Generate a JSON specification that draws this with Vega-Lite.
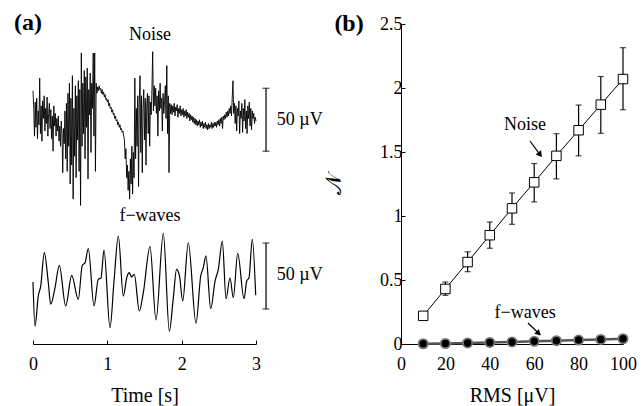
{
"$schema":"https://vega.github.io/schema/vega-lite/v6.json",
"padding":{"left":14,"top":10,"right":2,"bottom":2},
"background":"white",
"config":{"view":{"stroke":null},"font":"Liberation Serif",
"axis":{"labelFont":"Liberation Serif","titleFont":"Liberation Serif","labelColor":"black","titleColor":"black","domainColor":"black","tickColor":"black","titleFontWeight":"normal","labelFontSize":18,"titleFontSize":20,"grid":false,"labelFlush":false,"labelOverlap":false}},
"datasets":{
"noise":[{"t":0,"v":24},{"t":0.01,"v":10},{"t":0.02,"v":-12},{"t":0.03,"v":15},{"t":0.04,"v":-5},{"t":0.05,"v":18},{"t":0.06,"v":-14},{"t":0.07,"v":8},{"t":0.08,"v":-3},{"t":0.09,"v":34},{"t":0.1,"v":-10},{"t":0.11,"v":12},{"t":0.12,"v":-16},{"t":0.13,"v":16},{"t":0.14,"v":2},{"t":0.15,"v":20},{"t":0.16,"v":-8},{"t":0.17,"v":10},{"t":0.18,"v":-2},{"t":0.19,"v":19},{"t":0.2,"v":-12},{"t":0.21,"v":6},{"t":0.22,"v":14},{"t":0.23,"v":-6},{"t":0.24,"v":9},{"t":0.25,"v":-14},{"t":0.26,"v":4},{"t":0.27,"v":-24},{"t":0.28,"v":12},{"t":0.29,"v":-4},{"t":0.3,"v":6},{"t":0.31,"v":-12},{"t":0.32,"v":2},{"t":0.33,"v":-8},{"t":0.34,"v":4},{"t":0.35,"v":-16},{"t":0.36,"v":-4},{"t":0.37,"v":-20},{"t":0.38,"v":0},{"t":0.39,"v":-10},{"t":0.4,"v":-41},{"t":0.41,"v":-6},{"t":0.42,"v":-18},{"t":0.43,"v":8},{"t":0.44,"v":-30},{"t":0.45,"v":14},{"t":0.46,"v":-40},{"t":0.47,"v":22},{"t":0.48,"v":-20},{"t":0.49,"v":30},{"t":0.5,"v":-50},{"t":0.51,"v":18},{"t":0.52,"v":-35},{"t":0.53,"v":36},{"t":0.54,"v":-62},{"t":0.55,"v":10},{"t":0.56,"v":-28},{"t":0.57,"v":28},{"t":0.58,"v":-45},{"t":0.59,"v":20},{"t":0.6,"v":-15},{"t":0.61,"v":32},{"t":0.62,"v":-40},{"t":0.63,"v":25},{"t":0.64,"v":-67},{"t":0.65,"v":54},{"t":0.66,"v":-20},{"t":0.67,"v":30},{"t":0.68,"v":-10},{"t":0.69,"v":40},{"t":0.7,"v":-30},{"t":0.71,"v":35},{"t":0.72,"v":-5},{"t":0.73,"v":42},{"t":0.74,"v":-46},{"t":0.75,"v":25},{"t":0.76,"v":5},{"t":0.77,"v":38},{"t":0.78,"v":-25},{"t":0.79,"v":30},{"t":0.8,"v":10},{"t":0.81,"v":54},{"t":0.82,"v":-12},{"t":0.83,"v":54},{"t":0.84,"v":-40},{"t":0.85,"v":30},{"t":0.86,"v":22},{"t":0.87,"v":27},{"t":0.88,"v":24},{"t":0.89,"v":28},{"t":0.9,"v":25},{"t":0.91,"v":26},{"t":0.92,"v":22},{"t":0.93,"v":25},{"t":0.94,"v":21},{"t":0.95,"v":23},{"t":0.96,"v":19},{"t":0.97,"v":21},{"t":0.98,"v":17},{"t":0.99,"v":18},{"t":1,"v":15},{"t":1.01,"v":17},{"t":1.02,"v":12},{"t":1.03,"v":14},{"t":1.04,"v":10},{"t":1.05,"v":11},{"t":1.06,"v":7},{"t":1.07,"v":9},{"t":1.08,"v":5},{"t":1.09,"v":6},{"t":1.1,"v":2},{"t":1.11,"v":4},{"t":1.12,"v":0},{"t":1.13,"v":1},{"t":1.14,"v":-3},{"t":1.15,"v":-1},{"t":1.16,"v":-5},{"t":1.17,"v":-3},{"t":1.18,"v":-7},{"t":1.19,"v":-6},{"t":1.2,"v":-9},{"t":1.21,"v":-8},{"t":1.22,"v":-12},{"t":1.23,"v":-15},{"t":1.24,"v":-30},{"t":1.25,"v":-22},{"t":1.26,"v":-45},{"t":1.27,"v":-35},{"t":1.28,"v":-55},{"t":1.29,"v":-40},{"t":1.3,"v":-62},{"t":1.31,"v":-30},{"t":1.32,"v":-50},{"t":1.33,"v":-20},{"t":1.34,"v":-58},{"t":1.35,"v":-25},{"t":1.36,"v":-45},{"t":1.37,"v":34},{"t":1.38,"v":-30},{"t":1.39,"v":10},{"t":1.4,"v":-20},{"t":1.41,"v":20},{"t":1.42,"v":-52},{"t":1.43,"v":15},{"t":1.44,"v":36},{"t":1.45,"v":-25},{"t":1.46,"v":20},{"t":1.47,"v":-41},{"t":1.48,"v":10},{"t":1.49,"v":25},{"t":1.5,"v":-15},{"t":1.51,"v":18},{"t":1.52,"v":-35},{"t":1.53,"v":12},{"t":1.54,"v":22},{"t":1.55,"v":-10},{"t":1.56,"v":20},{"t":1.57,"v":-20},{"t":1.58,"v":15},{"t":1.59,"v":5},{"t":1.6,"v":25},{"t":1.61,"v":55},{"t":1.62,"v":8},{"t":1.63,"v":28},{"t":1.64,"v":12},{"t":1.65,"v":26},{"t":1.66,"v":6},{"t":1.67,"v":20},{"t":1.68,"v":-12},{"t":1.69,"v":24},{"t":1.7,"v":8},{"t":1.71,"v":30},{"t":1.72,"v":10},{"t":1.73,"v":18},{"t":1.74,"v":-8},{"t":1.75,"v":22},{"t":1.76,"v":6},{"t":1.77,"v":16},{"t":1.78,"v":28},{"t":1.79,"v":2},{"t":1.8,"v":44},{"t":1.81,"v":-10},{"t":1.82,"v":20},{"t":1.83,"v":-41},{"t":1.84,"v":14},{"t":1.85,"v":6},{"t":1.86,"v":13},{"t":1.87,"v":5},{"t":1.88,"v":12},{"t":1.89,"v":7},{"t":1.9,"v":14},{"t":1.91,"v":4},{"t":1.92,"v":11},{"t":1.93,"v":8},{"t":1.94,"v":13},{"t":1.95,"v":3},{"t":1.96,"v":10},{"t":1.97,"v":6},{"t":1.98,"v":12},{"t":1.99,"v":4},{"t":2,"v":9},{"t":2.01,"v":5},{"t":2.02,"v":10},{"t":2.03,"v":3},{"t":2.04,"v":8},{"t":2.05,"v":4},{"t":2.06,"v":9},{"t":2.07,"v":2},{"t":2.08,"v":7},{"t":2.09,"v":3},{"t":2.1,"v":6},{"t":2.11,"v":0},{"t":2.12,"v":5},{"t":2.13,"v":1},{"t":2.14,"v":4},{"t":2.15,"v":-1},{"t":2.16,"v":3},{"t":2.17,"v":-2},{"t":2.18,"v":2},{"t":2.19,"v":-3},{"t":2.2,"v":1},{"t":2.21,"v":-4},{"t":2.22,"v":0},{"t":2.23,"v":-3},{"t":2.24,"v":1},{"t":2.25,"v":-5},{"t":2.26,"v":-1},{"t":2.27,"v":-4},{"t":2.28,"v":0},{"t":2.29,"v":-6},{"t":2.3,"v":-2},{"t":2.31,"v":-5},{"t":2.32,"v":-1},{"t":2.33,"v":-6},{"t":2.34,"v":-3},{"t":2.35,"v":-7},{"t":2.36,"v":-2},{"t":2.37,"v":-6},{"t":2.38,"v":-3},{"t":2.39,"v":-5},{"t":2.4,"v":-1},{"t":2.41,"v":-6},{"t":2.42,"v":-2},{"t":2.43,"v":-5},{"t":2.44,"v":-1},{"t":2.45,"v":-4},{"t":2.46,"v":-1},{"t":2.47,"v":-5},{"t":2.48,"v":0},{"t":2.49,"v":-3},{"t":2.5,"v":1},{"t":2.51,"v":-4},{"t":2.52,"v":2},{"t":2.53,"v":-2},{"t":2.54,"v":3},{"t":2.55,"v":-6},{"t":2.56,"v":4},{"t":2.57,"v":1},{"t":2.58,"v":5},{"t":2.59,"v":2},{"t":2.6,"v":7},{"t":2.61,"v":3},{"t":2.62,"v":8},{"t":2.63,"v":4},{"t":2.64,"v":10},{"t":2.65,"v":6},{"t":2.66,"v":12},{"t":2.67,"v":4},{"t":2.68,"v":18},{"t":2.69,"v":32},{"t":2.7,"v":6},{"t":2.71,"v":14},{"t":2.72,"v":-2},{"t":2.73,"v":12},{"t":2.74,"v":-8},{"t":2.75,"v":10},{"t":2.76,"v":4},{"t":2.77,"v":16},{"t":2.78,"v":-10},{"t":2.79,"v":8},{"t":2.8,"v":2},{"t":2.81,"v":14},{"t":2.82,"v":-9},{"t":2.83,"v":10},{"t":2.84,"v":0},{"t":2.85,"v":17},{"t":2.86,"v":-6},{"t":2.87,"v":8},{"t":2.88,"v":-10},{"t":2.89,"v":12},{"t":2.9,"v":2},{"t":2.91,"v":15},{"t":2.92,"v":-4},{"t":2.93,"v":10},{"t":2.94,"v":-7},{"t":2.95,"v":8},{"t":2.96,"v":2},{"t":2.97,"v":6},{"t":2.98,"v":-2},{"t":2.99,"v":3},{"t":3,"v":0}],
"fw":[{"t":0,"w":-4.5},{"t":0.027,"w":-37.9},{"t":0.071,"w":-15.2},{"t":0.104,"w":-7.6},{"t":0.152,"w":17.7},{"t":0.206,"w":-5.1},{"t":0.238,"w":-21.4},{"t":0.296,"w":-8.9},{"t":0.354,"w":8.1},{"t":0.44,"w":-22.7},{"t":0.521,"w":0.5},{"t":0.609,"w":-17.7},{"t":0.663,"w":8.1},{"t":0.7,"w":10.1},{"t":0.744,"w":20.7},{"t":0.821,"w":-22.7},{"t":0.878,"w":-2.5},{"t":0.915,"w":-1.5},{"t":0.955,"w":19.7},{"t":1.036,"w":-39.2},{"t":1.09,"w":-3.8},{"t":1.148,"w":30.3},{"t":1.215,"w":-15.2},{"t":1.261,"w":-1.3},{"t":1.296,"w":2.5},{"t":1.325,"w":-0.8},{"t":1.363,"w":1.3},{"t":1.43,"w":-26.5},{"t":1.484,"w":-12.7},{"t":1.574,"w":22.2},{"t":1.655,"w":-33.3},{"t":1.753,"w":32.3},{"t":1.834,"w":-41.7},{"t":1.888,"w":-16.4},{"t":1.931,"w":5.1},{"t":1.971,"w":0},{"t":2.014,"w":-18.9},{"t":2.089,"w":25.2},{"t":2.193,"w":-35.8},{"t":2.256,"w":0},{"t":2.291,"w":6.3},{"t":2.327,"w":15.2},{"t":2.391,"w":-24.8},{"t":2.449,"w":-3.8},{"t":2.493,"w":5.1},{"t":2.547,"w":26.5},{"t":2.597,"w":-17.2},{"t":2.65,"w":-1.3},{"t":2.695,"w":-16.4},{"t":2.754,"w":17.2},{"t":2.839,"w":-17.2},{"t":2.875,"w":-3.8},{"t":2.906,"w":-1.3},{"t":2.95,"w":27.8},{"t":2.996,"w":-14.6}],
"rmsN":[{"rms":10,"n":0.22,"lo":0.21,"hi":0.23},{"rms":20,"n":0.43,"lo":0.38,"hi":0.484},{"rms":30,"n":0.64,"lo":0.565,"hi":0.72},{"rms":40,"n":0.85,"lo":0.748,"hi":0.953},{"rms":50,"n":1.06,"lo":0.935,"hi":1.18},{"rms":60,"n":1.263,"lo":1.11,"hi":1.41},{"rms":70,"n":1.47,"lo":1.29,"hi":1.643},{"rms":80,"n":1.67,"lo":1.47,"hi":1.867},{"rms":90,"n":1.87,"lo":1.646,"hi":2.09},{"rms":100,"n":2.07,"lo":1.83,"hi":2.315}],
"rmsF":[{"rms":10,"n":0.002},{"rms":20,"n":0.004},{"rms":30,"n":0.008},{"rms":40,"n":0.012},{"rms":50,"n":0.016},{"rms":60,"n":0.021},{"rms":70,"n":0.026},{"rms":80,"n":0.031},{"rms":90,"n":0.036},{"rms":100,"n":0.041}]
},
"hconcat":[
{
"width":223,"height":320,
"layer":[
{"data":{"values":[{}]},"layer":[
{"data":{"name":"noise"},"mark":{"type":"line","color":"black","strokeWidth":0.9},
 "encoding":{"x":{"field":"t","type":"quantitative","scale":{"domain":[0,3],"nice":false,"zero":false},
   "axis":{"values":[0,1,2,3],"format":"~g","tickSize":-4,"labelPadding":15,"title":"Time [s]","titlePadding":12}},
  "y":{"field":"v","type":"quantitative","scale":{"domain":[-177,77],"nice":false,"zero":false},"axis":null}}},
{"mark":{"type":"rule","color":"black","strokeWidth":1.2},"encoding":{"x":{"datum":3.135,"type":"quantitative"},"y":{"datum":-24,"type":"quantitative"},"y2":{"datum":26}}},
{"mark":{"type":"tick","color":"black","orient":"horizontal","size":7,"thickness":1.2},"encoding":{"x":{"datum":3.135,"type":"quantitative"},"y":{"datum":-24,"type":"quantitative"}}},
{"mark":{"type":"tick","color":"black","orient":"horizontal","size":7,"thickness":1.2},"encoding":{"x":{"datum":3.135,"type":"quantitative"},"y":{"datum":26,"type":"quantitative"}}},
{"mark":{"type":"text","text":"50 µV","align":"left","baseline":"middle","fontSize":18,"font":"Liberation Serif","color":"black"},"encoding":{"x":{"datum":3.28,"type":"quantitative"},"y":{"datum":1,"type":"quantitative"}}},
{"mark":{"type":"text","text":"Noise","align":"center","baseline":"middle","fontSize":18,"font":"Liberation Serif","color":"black"},"encoding":{"x":{"datum":1.574,"type":"quantitative"},"y":{"datum":68,"type":"quantitative"}}},
{"mark":{"type":"text","text":"(a)","align":"center","baseline":"middle","fontSize":24,"fontWeight":"bold","font":"Liberation Serif","color":"black"},"encoding":{"x":{"datum":-0.067,"type":"quantitative"},"y":{"datum":78,"type":"quantitative"}}}
]},
{"data":{"values":[{}]},"layer":[
{"data":{"name":"fw"},"mark":{"type":"line","color":"black","strokeWidth":1.2,"interpolate":"monotone"},
 "encoding":{"x":{"field":"t","type":"quantitative"},
  "y":{"field":"w","type":"quantitative","scale":{"domain":[-51.5,190.9],"nice":false,"zero":false},"axis":null}}},
{"mark":{"type":"rule","color":"black","strokeWidth":1.2},"encoding":{"x":{"datum":3.135,"type":"quantitative"},"y":{"datum":-25,"type":"quantitative"},"y2":{"datum":25}}},
{"mark":{"type":"tick","color":"black","orient":"horizontal","size":7,"thickness":1.2},"encoding":{"x":{"datum":3.135,"type":"quantitative"},"y":{"datum":-25,"type":"quantitative"}}},
{"mark":{"type":"tick","color":"black","orient":"horizontal","size":7,"thickness":1.2},"encoding":{"x":{"datum":3.135,"type":"quantitative"},"y":{"datum":25,"type":"quantitative"}}},
{"mark":{"type":"text","text":"50 µV","align":"left","baseline":"middle","fontSize":18,"font":"Liberation Serif","color":"black"},"encoding":{"x":{"datum":3.28,"type":"quantitative"},"y":{"datum":0.5,"type":"quantitative"}}},
{"mark":{"type":"text","text":"f−waves","align":"center","baseline":"middle","fontSize":18,"font":"Liberation Serif","color":"black"},"encoding":{"x":{"datum":1.574,"type":"quantitative"},"y":{"datum":45.5,"type":"quantitative"}}}
]}
],
"resolve":{"scale":{"y":"independent"}}
},
{
"width":222,"height":320,
"data":{"values":[{}]},
"layer":[
{"data":{"name":"rmsF"},"mark":{"type":"line","color":"#555","strokeWidth":2.5},
 "encoding":{"x":{"field":"rms","type":"quantitative","scale":{"domain":[0,100],"nice":false},
   "axis":{"values":[0,20,40,60,80,100],"tickSize":-4,"labelPadding":15,"title":"RMS [μV]","titlePadding":12}},
  "y":{"field":"n","type":"quantitative","scale":{"domain":[0,2.5],"nice":false},
   "axis":{"values":[0,0.5,1,1.5,2,2.5],"format":"~g","tickSize":-4,"labelPadding":3,"title":"𝒩","titlePadding":34,"titleFontSize":22}}}},
{"data":{"name":"rmsF"},"mark":{"type":"point","shape":"circle","filled":true,"color":"black","stroke":"#777","strokeWidth":1.8,"size":85,"opacity":1},
 "encoding":{"x":{"field":"rms","type":"quantitative"},"y":{"field":"n","type":"quantitative"}}},
{"data":{"name":"rmsN"},"mark":{"type":"line","color":"black","strokeWidth":1},
 "encoding":{"x":{"field":"rms","type":"quantitative"},"y":{"field":"n","type":"quantitative"}}},
{"data":{"name":"rmsN"},"mark":{"type":"rule","color":"black","strokeWidth":1.2},
 "encoding":{"x":{"field":"rms","type":"quantitative"},"y":{"field":"lo","type":"quantitative"},"y2":{"field":"hi"}}},
{"data":{"name":"rmsN"},"mark":{"type":"tick","color":"black","orient":"horizontal","size":6,"thickness":1.2},
 "encoding":{"x":{"field":"rms","type":"quantitative"},"y":{"field":"lo","type":"quantitative"}}},
{"data":{"name":"rmsN"},"mark":{"type":"tick","color":"black","orient":"horizontal","size":6,"thickness":1.2},
 "encoding":{"x":{"field":"rms","type":"quantitative"},"y":{"field":"hi","type":"quantitative"}}},
{"data":{"name":"rmsN"},"mark":{"type":"point","shape":"square","filled":true,"fill":"white","stroke":"black","strokeWidth":1,"size":90,"opacity":1},
 "encoding":{"x":{"field":"rms","type":"quantitative"},"y":{"field":"n","type":"quantitative"}}},
{"mark":{"type":"text","text":"Noise","align":"center","baseline":"middle","fontSize":18,"font":"Liberation Serif","color":"black"},"encoding":{"x":{"datum":55.9,"type":"quantitative"},"y":{"datum":1.71,"type":"quantitative"}}},
{"mark":{"type":"text","text":"f−waves","align":"center","baseline":"middle","fontSize":18,"font":"Liberation Serif","color":"black"},"encoding":{"x":{"datum":55.9,"type":"quantitative"},"y":{"datum":0.24,"type":"quantitative"}}},
{"mark":{"type":"rule","color":"black","strokeWidth":1.2},"encoding":{"x":{"datum":58.1,"type":"quantitative"},"y":{"datum":1.586,"type":"quantitative"},"x2":{"datum":62.2},"y2":{"datum":1.49}}},
{"mark":{"type":"point","shape":"triangle","filled":true,"color":"black","size":45,"angle":143,"opacity":1},"encoding":{"x":{"datum":62.4,"type":"quantitative"},"y":{"datum":1.485,"type":"quantitative"}}},
{"mark":{"type":"rule","color":"black","strokeWidth":1.2},"encoding":{"x":{"datum":57.2,"type":"quantitative"},"y":{"datum":0.164,"type":"quantitative"},"x2":{"datum":61.5},"y2":{"datum":0.092}}},
{"mark":{"type":"point","shape":"triangle","filled":true,"color":"black","size":45,"angle":133,"opacity":1},"encoding":{"x":{"datum":61.7,"type":"quantitative"},"y":{"datum":0.088,"type":"quantitative"}}},
{"mark":{"type":"text","text":"(b)","align":"center","baseline":"middle","fontSize":24,"fontWeight":"bold","font":"Liberation Serif","color":"black"},"encoding":{"x":{"datum":-23.4,"type":"quantitative"},"y":{"datum":2.5,"type":"quantitative"}}}
]
}
],
"spacing":145,
"bounds":"flush"
}
